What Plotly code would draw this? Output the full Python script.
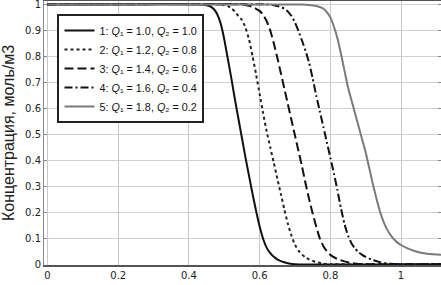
import plotly.graph_objects as go

# Series data
x1 = [0.0, 0.43, 0.45, 0.46, 0.47, 0.48, 0.49, 0.50, 0.51, 0.52, 0.53, 0.54, 0.55, 0.56, 0.57, 0.58,
      0.59, 0.60, 0.61, 0.62, 0.63, 0.64, 0.65, 0.66, 0.68, 0.70, 1.12]
y1 = [1.0, 1.0, 0.997, 0.992, 0.982, 0.962, 0.925, 0.865, 0.79, 0.715, 0.635, 0.56, 0.485, 0.41, 0.34, 0.27,
      0.205, 0.145, 0.097, 0.063, 0.043, 0.029, 0.019, 0.012, 0.004, 0.0, 0.0]

x2 = [0.0, 0.48, 0.50, 0.51, 0.52, 0.53, 0.54, 0.55, 0.56, 0.57, 0.58, 0.59, 0.60, 0.61, 0.62, 0.63,
      0.64, 0.65, 0.66, 0.67, 0.68, 0.69, 0.70, 0.71, 0.72, 0.73, 0.74, 0.76, 0.78, 0.80, 1.12]
y2 = [1.0, 1.0, 0.997, 0.993, 0.985, 0.972, 0.955, 0.94, 0.91, 0.865, 0.80, 0.73, 0.655, 0.58, 0.51, 0.45,
      0.39, 0.33, 0.27, 0.21, 0.155, 0.11, 0.075, 0.052, 0.037, 0.026, 0.018, 0.008, 0.002, 0.0, 0.0]

x3 = [0.0, 0.55, 0.56, 0.57, 0.58, 0.59, 0.60, 0.61, 0.62, 0.63, 0.64, 0.65, 0.66, 0.67, 0.68, 0.69,
      0.70, 0.71, 0.72, 0.73, 0.74, 0.75, 0.76, 0.77, 0.78, 0.79, 0.80, 0.82, 0.84, 0.86, 0.88, 0.90, 1.12]
y3 = [1.0, 1.0, 0.998, 0.995, 0.99, 0.983, 0.975, 0.96, 0.935, 0.90, 0.85, 0.795, 0.735, 0.675, 0.615, 0.555,
      0.495, 0.435, 0.375, 0.31, 0.25, 0.195, 0.145, 0.10, 0.07, 0.05, 0.036, 0.02, 0.011, 0.005, 0.001, 0.0, 0.0]

x4 = [0.0, 0.62, 0.64, 0.66, 0.67, 0.68, 0.69, 0.70, 0.71, 0.72, 0.73, 0.74, 0.75, 0.76, 0.77, 0.78,
      0.79, 0.80, 0.81, 0.82, 0.83, 0.84, 0.85, 0.86, 0.87, 0.88, 0.89, 0.90, 0.92, 0.94, 0.96, 0.98, 1.0, 1.12]
y4 = [1.0, 1.0, 0.997, 0.99, 0.983, 0.972, 0.955, 0.93, 0.897, 0.86, 0.82, 0.775, 0.715, 0.65, 0.59, 0.53,
      0.47, 0.41, 0.35, 0.285, 0.215, 0.155, 0.11, 0.08, 0.06, 0.046, 0.036, 0.028, 0.016, 0.008, 0.003, 0.001, 0.0, 0.0]

x5 = [0.0, 0.72, 0.74, 0.76, 0.77, 0.78, 0.79, 0.80, 0.81, 0.82, 0.83, 0.84, 0.85, 0.86, 0.87, 0.88,
      0.89, 0.90, 0.91, 0.92, 0.93, 0.94, 0.95, 0.96, 0.97, 0.98, 0.99, 1.00, 1.02, 1.04, 1.06, 1.08, 1.12]
y5 = [1.0, 1.0, 0.998, 0.994, 0.99, 0.984, 0.97, 0.95, 0.915, 0.87, 0.81, 0.745, 0.68, 0.63, 0.58, 0.53,
      0.48, 0.43, 0.37, 0.31, 0.255, 0.205, 0.165, 0.135, 0.113, 0.096, 0.083, 0.074, 0.06, 0.05, 0.043, 0.039, 0.036]

names = [
    "1: <i>Q</i>₁ = 1.0, <i>Q</i>₂ = 1.0",
    "2: <i>Q</i>₁ = 1.2, <i>Q</i>₂ = 0.8",
    "3: <i>Q</i>₁ = 1.4, <i>Q</i>₂ = 0.6",
    "4: <i>Q</i>₁ = 1.6, <i>Q</i>₂ = 0.4",
    "5: <i>Q</i>₁ = 1.8, <i>Q</i>₂ = 0.2",
]

x_ticks = [0, 0.2, 0.4, 0.6, 0.8, 1.0]
x_tick_labels = ["0", "0.2", "0.4", "0.6", "0.8", "1"]
y_ticks = [0, 0.1, 0.2, 0.3, 0.4, 0.5, 0.6, 0.7, 0.8, 0.9, 1.0]
y_tick_labels = ["0", "0.1", "0.2", "0.3", "0.4", "0.5", "0.6", "0.7", "0.8", "0.9", "1"]

styles = [
    dict(color="#111111", width=2, dash="solid"),
    dict(color="#222222", width=2, dash="dot"),
    dict(color="#111111", width=2, dash="9px,4px"),
    dict(color="#111111", width=2, dash="8px,3px,2px,3px"),
    dict(color="#7a7a7a", width=2, dash="solid"),
]

fig = go.Figure()
for xs, ys, nm, st in zip([x1, x2, x3, x4, x5], [y1, y2, y3, y4, y5], names, styles):
    fig.add_trace(go.Scatter(x=xs, y=ys, mode="lines", name=nm,
                             line=dict(shape="spline", smoothing=0.5, **st)))

fig.update_layout(
    width=441, height=285,
    margin=dict(l=44, r=0, t=1, b=20),
    paper_bgcolor="white", plot_bgcolor="white",
    font=dict(family="DejaVu Sans", color="#333333"),
    showlegend=True,
    legend=dict(
        x=0.034, y=0.951, xanchor="left", yanchor="top",
        bgcolor="white", bordercolor="#222222", borderwidth=2,
        font=dict(family="Liberation Sans", size=10.8, color="#111111"),
        itemwidth=30, tracegroupgap=0,
    ),
    xaxis=dict(
        range=[-0.01, 1.113], tickvals=x_ticks, ticktext=x_tick_labels,
        showgrid=True, gridcolor="#c8c8c8", gridwidth=1, automargin=False,
        showline=True, linecolor="#555555", linewidth=1.5, mirror=True,
        zeroline=False, ticks="", ticklabeloverflow="allow",
        tickfont=dict(size=10, family="DejaVu Sans", color="#222222"),
    ),
    yaxis=dict(
        range=[-0.003, 1.013], tickvals=y_ticks, ticktext=y_tick_labels,
        showgrid=True, gridcolor="#d0d0d0", gridwidth=1, automargin=False,
        showline=True, linecolor="#888888", linewidth=1, mirror="ticks",
        zeroline=False, ticks="inside", ticklen=3, tickcolor="#888888",
        ticklabeloverflow="allow",
        tickfont=dict(size=10, family="DejaVu Sans", color="#222222"),
        title=dict(text="Концентрация, моль/м3", standoff=8,
                   font=dict(family="Liberation Sans", size=16, color="#222222")),
    ),
)

fig.write_html("out.html", config={"displayModeBar": False},
               post_script="document.body.style.margin='0';document.body.style.overflow='hidden';")
